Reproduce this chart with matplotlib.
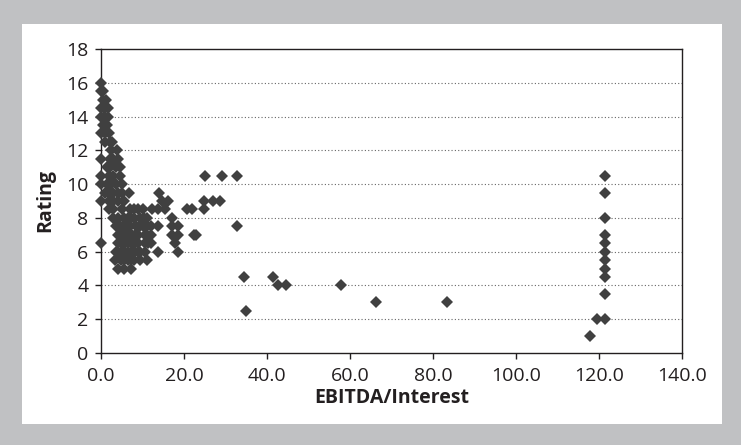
import numpy as np
import matplotlib
matplotlib.use("Agg")
import matplotlib.pyplot as plt
from matplotlib.patches import Rectangle

plt.rcParams['font.family'] = ['Open Sans', 'DejaVu Sans']

# (EBITDA/Interest, Rating), grouped by rating level
cluster_x = [
    0,                      # 16
    0, 0.5,                 # 15.5
    0.5, 1.3,               # 15
    0, 1, 1.8,              # 14.5
    0, 0.8, 1.8,            # 14
    0.5, 1.5,               # 13.5
    0, 1, 2,                # 13
    1, 2.2, 2.6,            # 12.5
    2.5, 3.8,               # 12
    0, 2.2, 3, 4.2,         # 11.5
    1.5, 2.2, 3.5, 4.5,     # 11
    0, 2, 3, 4.5,           # 10.5
    0, 1.5, 2.5, 3.5, 5,    # 10
    1, 2, 3, 4, 5, 6.8, 14, # 9.5
    0, 2, 3, 4, 5.5, 14.8, 16.1, 24.7, 27.1, 28.6,                   # 9
    2, 3, 5, 7, 8, 9, 10, 12.2, 13.8, 15.4, 20.7, 21.9, 24.7,        # 8.5
    3, 4, 5.5, 6.5, 7.2, 8, 9.5, 10.3, 11, 17,                       # 8
    3.5, 4.5, 5.2, 6, 7, 8.5, 9.5, 10, 11, 12, 13.7, 17, 18.6, 32.8, # 7.5
    4, 5, 5.8, 6.5, 7.5, 8.2, 9, 10.5, 11.2, 12, 17, 18.6, 22.3, 22.8,  # 7
    0, 4, 4.8, 5.5, 6.5, 7.5, 8.2, 9, 10.5, 11.3, 12, 17.8,          # 6.5
    3.5, 4.2, 5, 5.8, 6.5, 7.2, 8, 8.8, 9.5, 10.5, 13.8, 18.6,       # 6
    3.3, 4.8, 5.6, 6.5, 7.2, 8, 9.5, 11,                             # 5.5
    4.2, 5.6, 7.3,                                                   # 5
]
cluster_y = (
    [16] * 1 + [15.5] * 2 + [15] * 2 + [14.5] * 3 + [14] * 3 + [13.5] * 2
    + [13] * 3 + [12.5] * 3 + [12] * 2 + [11.5] * 4 + [11] * 4 + [10.5] * 4
    + [10] * 5 + [9.5] * 7 + [9] * 10 + [8.5] * 13 + [8] * 10 + [7.5] * 14
    + [7] * 14 + [6.5] * 12 + [6] * 12 + [5.5] * 8 + [5] * 3
)

outer_x = [25.1, 29.2, 32.8, 34.5, 35.0, 41.4, 42.7, 44.6, 57.8, 66.3, 83.4,
           117.8, 119.4]
outer_y = [10.5, 10.5, 10.5, 4.5, 2.5, 4.5, 4, 4, 4, 3, 3,
           1, 2]

capped_y = [10.5, 9.5, 8, 7, 6.5, 6, 5.5, 5, 4.5, 3.5, 2]
capped_x = [121.5] * len(capped_y)

xs = cluster_x + outer_x + capped_x
ys = cluster_y + outer_y + capped_y

fig = plt.figure(figsize=(7.41, 4.45), dpi=100)
fig.patch.set_facecolor('#c0c1c3')
fig.patches.append(Rectangle((22 / 741, 21 / 445), 700 / 741, 400 / 445,
                             transform=fig.transFigure, facecolor='white',
                             edgecolor='none', zorder=-10))

ax = fig.add_axes([101 / 741, 92 / 445, 581 / 741, 304 / 445])
ax.set_zorder(5)
ax.plot(xs, ys, linestyle='none', marker='D', ms=6.2, color='#404040',
        markeredgewidth=0, zorder=3, clip_on=False)

ax.set_xlim(0, 140)
ax.set_ylim(0, 18)
ax.set_xticks(np.arange(0, 141, 20))
ax.set_xticklabels([f"{v:.1f}" for v in np.arange(0, 141, 20)])
ax.set_yticks(np.arange(0, 19, 2))
for y in range(2, 18, 2):
    ax.axhline(y, color='#666666', lw=0.8, linestyle=(0, (1, 2)), zorder=1)

for s in ax.spines.values():
    s.set_color('#231f20')
    s.set_linewidth(1.0)
    s.set_zorder(2)
ax.tick_params(direction='out', length=4, width=1, colors='#231f20',
               labelsize=14, pad=5)
ax.tick_params(axis='x', pad=6)

ax.set_xlabel('EBITDA/Interest', fontsize=14, fontweight='bold',
              color='#231f20', labelpad=2)
ax.set_ylabel('Rating', fontsize=14, fontweight='bold', color='#231f20',
              labelpad=8)

fig.savefig('out.png', dpi=100, facecolor=fig.get_facecolor())
